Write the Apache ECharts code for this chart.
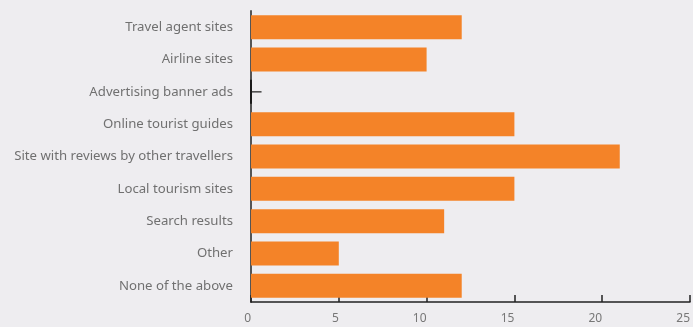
<!DOCTYPE html>
<html>
<head>
<meta charset="utf-8">
<script src="https://cdn.jsdelivr.net/npm/echarts@6/dist/echarts.min.js"></script>
<style>
html,body{margin:0;padding:0;background:#eeedf0;}
#chart{width:693px;height:327px;}
</style>
</head>
<body>
<div id="chart"></div>
<script>
var categories = ["Travel agent sites","Airline sites","Advertising banner ads","Online tourist guides","Site with reviews by other travellers","Local tourism sites","Search results","Other","None of the above"];
var values = [12, 10, 0, 15, 21, 15, 11, 5, 12];
var markerCategory = "Advertising banner ads";
var markerValue = 0.6;
var xTicks = [0, 5, 10, 15, 20, 25];

var chart = echarts.init(document.getElementById('chart'), null, {renderer:'canvas'});
chart.setOption({
  backgroundColor: '#eeedf0',
  animation: false,
  grid: {left: 251, right: 1, top: 11, bottom: 25, containLabel: false},
  xAxis: {
    type: 'value', min: xTicks[0], max: xTicks[xTicks.length-1], interval: 5,
    axisLine: {show: true, lineStyle: {color: '#222', width: 1.5}},
    axisTick: {show: true, inside: true, length: 7, lineStyle: {color: '#222', width: 1.5}},
    splitLine: {show: false},
    axisLabel: {color: '#777', fontSize: 12, fontFamily: 'Noto Sans', align: 'right', margin: 11}
  },
  yAxis: {
    type: 'category', data: categories, inverse: true,
    axisLine: {show: true, lineStyle: {color: '#555', width: 2}},
    axisTick: {show: false},
    axisLabel: {color: '#707070', fontSize: 13.2, fontFamily: 'Noto Sans', margin: 18}
  },
  series: [
    {
      type: 'bar', data: values, barWidth: 24,
      itemStyle: {color: '#f48328'}
    },
    {
      type: 'custom',
      data: [[markerValue, markerCategory]],
      encode: {x: 0, y: 1},
      renderItem: function(params, api){
        var s = api.coord([0, api.value(1)]);
        var e = api.coord([api.value(0), api.value(1)]);
        var band = api.size([0, 1])[1];
        return {type: 'group', children: [
          {type: 'line', shape: {x1: s[0], y1: s[1], x2: e[0], y2: e[1]}, style: {stroke: '#444', lineWidth: 1.5}},
          {type: 'line', shape: {x1: s[0], y1: s[1] - band*0.37, x2: s[0], y2: s[1] + band*0.37}, style: {stroke: '#1a1a1a', lineWidth: 2}}
        ]};
      }
    }
  ]
});
</script>
</body>
</html>
